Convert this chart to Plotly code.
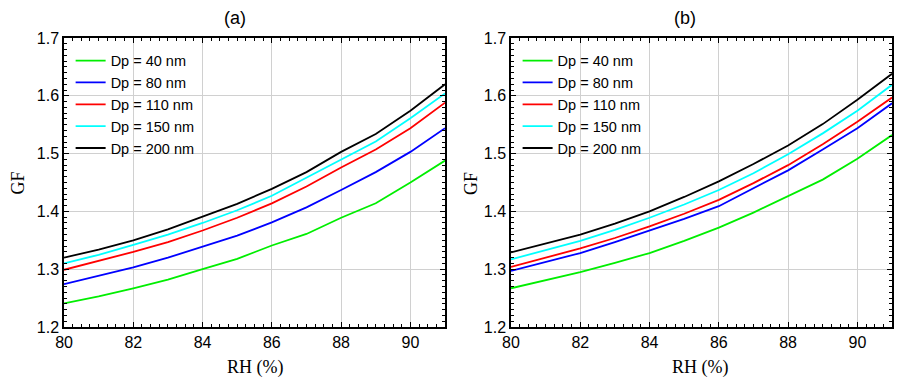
import plotly.graph_objects as go

rh = [80, 81, 82, 83, 84, 85, 86, 87, 88, 89, 90, 91]

labels = ['Dp = 40 nm', 'Dp = 80 nm', 'Dp = 110 nm', 'Dp = 150 nm', 'Dp = 200 nm']
colors = ['#00EE00', '#0000FF', '#FF0000', '#00FFFF', '#000000']

# panel (a)
gf_a_40 = [1.241, 1.253, 1.267, 1.282, 1.300, 1.318, 1.341, 1.361, 1.389, 1.414, 1.450, 1.488]
gf_a_80 = [1.274, 1.288, 1.303, 1.320, 1.339, 1.358, 1.381, 1.407, 1.437, 1.468, 1.503, 1.544]
gf_a_110 = [1.299, 1.314, 1.330, 1.347, 1.367, 1.389, 1.414, 1.443, 1.476, 1.507, 1.544, 1.588]
gf_a_150 = [1.310, 1.325, 1.342, 1.360, 1.380, 1.402, 1.427, 1.458, 1.490, 1.521, 1.561, 1.604]
gf_a_200 = [1.320, 1.334, 1.350, 1.369, 1.391, 1.413, 1.439, 1.468, 1.503, 1.534, 1.574, 1.620]

# panel (b)
gf_b_40 = [1.267, 1.281, 1.295, 1.311, 1.328, 1.349, 1.372, 1.398, 1.427, 1.455, 1.491, 1.532]
gf_b_80 = [1.297, 1.312, 1.328, 1.347, 1.367, 1.387, 1.409, 1.440, 1.471, 1.507, 1.544, 1.587]
gf_b_110 = [1.304, 1.320, 1.336, 1.354, 1.374, 1.396, 1.420, 1.449, 1.480, 1.516, 1.555, 1.597]
gf_b_150 = [1.317, 1.333, 1.349, 1.368, 1.389, 1.412, 1.437, 1.466, 1.499, 1.535, 1.574, 1.619]
gf_b_200 = [1.329, 1.344, 1.360, 1.379, 1.400, 1.425, 1.452, 1.482, 1.514, 1.551, 1.593, 1.638]

panel_a = [gf_a_40, gf_a_80, gf_a_110, gf_a_150, gf_a_200]
panel_b = [gf_b_40, gf_b_80, gf_b_110, gf_b_150, gf_b_200]

fig = go.Figure()

for i, ys in enumerate(panel_a):
    fig.add_trace(
        go.Scatter(
            x=rh, y=ys, mode='lines', name=labels[i],
            line=dict(color=colors[i], width=1.8),
            xaxis='x', yaxis='y', legend='legend'
        )
    )

for i, ys in enumerate(panel_b):
    fig.add_trace(
        go.Scatter(
            x=rh, y=ys, mode='lines', name=labels[i],
            line=dict(color=colors[i], width=1.8),
            xaxis='x2', yaxis='y2', legend='legend2'
        )
    )

xax = dict(
    range=[80, 91], tick0=80, dtick=2, automargin=False,
    ticks='inside', ticklen=5, tickwidth=1.2, tickcolor='black',
    showline=True, linecolor='black', linewidth=1.5, mirror='allticks',
    showgrid=True, gridcolor='#d0d0d0', gridwidth=1, zeroline=False,
    tickfont=dict(family='Liberation Sans, Arial', size=16, color='black'),
    minor=dict(dtick=0.25, tick0=80, ticks='inside', ticklen=3, tickwidth=1.2,
               tickcolor='black', showgrid=False),
)
yax = dict(
    range=[1.2, 1.7], tick0=1.2, dtick=0.1, tickformat='.1f', automargin=False,
    ticks='inside', ticklen=5, tickwidth=1.2, tickcolor='black',
    showline=True, linecolor='black', linewidth=1.5, mirror='allticks',
    showgrid=True, gridcolor='#d0d0d0', gridwidth=1, zeroline=False,
    tickfont=dict(family='Liberation Sans, Arial', size=16, color='black'),
    minor=dict(dtick=0.01, tick0=1.2, ticks='inside', ticklen=3, tickwidth=1.2,
               tickcolor='black', showgrid=False),
)

legend_style = dict(
    xanchor='left', yanchor='top', bgcolor='rgba(0,0,0,0)', borderwidth=0,
    font=dict(family='Liberation Sans, Arial', size=14.5, color='black'),
    tracegroupgap=0,
)

sans = dict(family='Liberation Sans, Arial', size=18, color='black')
serif = dict(family='Liberation Serif, Times New Roman', size=18, color='black')

fig.update_layout(
    template='none',
    width=905, height=389,
    margin=dict(l=0, r=0, t=0, b=0),
    paper_bgcolor='white', plot_bgcolor='white',
    showlegend=True,
    xaxis=dict(xax, domain=[0.0619, 0.4829], anchor='y'),
    yaxis=dict(yax, domain=[0.1799, 0.9229], anchor='x'),
    xaxis2=dict(xax, domain=[0.5558, 0.9768], anchor='y2'),
    yaxis2=dict(yax, domain=[0.1799, 0.9229], anchor='x2'),
    legend=dict(legend_style, x=0.0692, y=0.9057),
    legend2=dict(legend_style, x=0.5631, y=0.9057),
    annotations=[
        dict(text='(a)', x=0.2508, y=0.974, font=sans),
        dict(text='(b)', x=0.7486, y=0.974, font=sans),
        dict(text='RH (%)', x=0.273, y=0.0746, font=serif),
        dict(text='RH (%)', x=0.7657, y=0.0746, font=serif),
        dict(text='GF', x=0.0115, y=0.55, textangle=-90, font=serif),
        dict(text='GF', x=0.5115, y=0.55, textangle=-90, font=serif),
    ],
)
fig.update_annotations(xref='paper', yref='paper', showarrow=False,
                       xanchor='center', yanchor='middle')

fig.write_html("out.html")
